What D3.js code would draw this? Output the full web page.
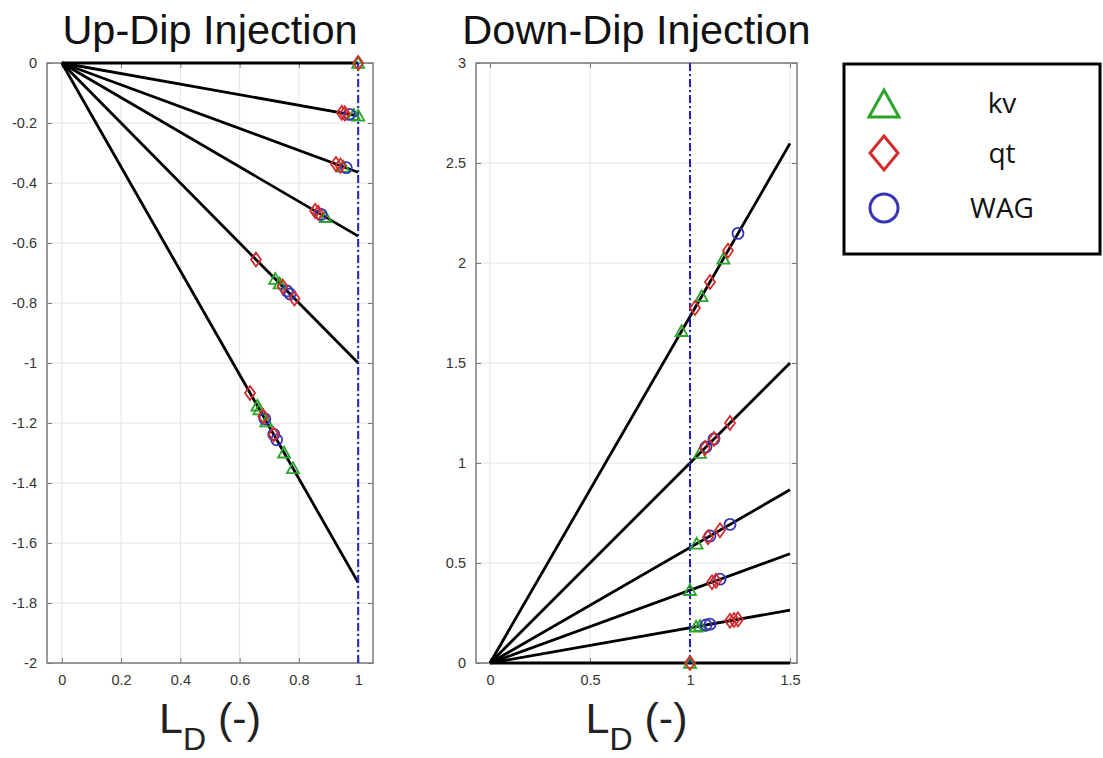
<!DOCTYPE html>
<html>
<head>
<meta charset="utf-8">
<script src="https://cdn.jsdelivr.net/npm/d3@7"></script>
<style>
  body { margin: 0; background: #fff; }
  svg { display: block; }
</style>
</head>
<body>
<svg id="chart" width="1103" height="758"></svg>
<script>
// ---------------- data ----------------
const upTitle = "Up-Dip Injection";
const downTitle = "Down-Dip Injection";

// line end points (y value at the last L_D of each line)
const upLineEndX = 1.0;
const upLineEndY = [0, -0.176, -0.364, -0.577, -1.0, -1.732];
const downLineEndX = 1.5;
const downLineEndY = [0, 0.264, 0.546, 0.866, 1.5, 2.598];

// markers [L_D, value]
const upKv = [[1, 0], [0.985, -0.173], [1.0, -0.176], [0.95, -0.346], [0.89, -0.514],
  [0.72, -0.72], [0.735, -0.735], [0.66, -1.143], [0.667, -1.155], [0.69, -1.195], [0.75, -1.299], [0.78, -1.351]];
const upQt = [[1, 0], [0.945, -0.166], [0.955, -0.168], [0.925, -0.337], [0.94, -0.342],
  [0.855, -0.493], [0.865, -0.499], [0.655, -0.655], [0.745, -0.745], [0.785, -0.785],
  [0.635, -1.10], [0.68, -1.178], [0.715, -1.238]];
const upWag = [[0.97, -0.171], [0.96, -0.349], [0.875, -0.505], [0.76, -0.76], [0.77, -0.77],
  [0.685, -1.186], [0.715, -1.238], [0.725, -1.256]];

const downKv = [[1, 0], [1.03, 0.181], [1.05, 0.185], [1.0, 0.364], [1.033, 0.596], [1.05, 1.05],
  [0.958, 1.659], [1.058, 1.833], [1.167, 2.021]];
const downQt = [[1.2, 0.211], [1.22, 0.215], [1.24, 0.218], [1.11, 0.404], [1.13, 0.411],
  [1.09, 0.629], [1.15, 0.664], [1.075, 1.075], [1.12, 1.12], [1.2, 1.2],
  [1.025, 1.775], [1.10, 1.905], [1.19, 2.061], [1, 0]];
const downWag = [[1.08, 0.19], [1.1, 0.194], [1.15, 0.419], [1.1, 0.635], [1.2, 0.693],
  [1.08, 1.08], [1.12, 1.12], [1.24, 2.148]];

const upXTicks = [0, 0.2, 0.4, 0.6, 0.8, 1];
const upYTicks = [0, -0.2, -0.4, -0.6, -0.8, -1, -1.2, -1.4, -1.6, -1.8, -2];
const downXTicks = [0, 0.5, 1, 1.5];
const downYTicks = [0, 0.5, 1, 1.5, 2, 2.5, 3];

const legendLabels = ["kv", "qt", "WAG"];
const colors = { kv: "#2aa52a", qt: "#d42a2a", WAG: "#3535b5" };

// ---------------- drawing ----------------
const svg = d3.select("#chart");

function trianglePath(s) { // s = half width
  const h = s * 1.0;
  return `M0,${-h}L${s},${h * 0.8}L${-s},${h * 0.8}Z`;
}
function diamondPath(w, h) { return `M0,${-h}L${w},0L0,${h}L${-w},0Z`; }
function circlePath(r) { return d3.symbol(d3.symbolCircle, Math.PI * r * r)(); }

function drawPanel(cfg) {
  const g = svg.append("g");
  const x = d3.scaleLinear().domain(cfg.xDomain).range(cfg.xRange);
  const y = d3.scaleLinear().domain(cfg.yDomain).range(cfg.yRange);
  const [x0, x1] = cfg.xRange, [yb, yt] = cfg.yRange;

  // grid
  g.append("g").selectAll("line").data(cfg.xTicks).join("line")
    .attr("x1", d => x(d)).attr("x2", d => x(d)).attr("y1", yb).attr("y2", yt)
    .attr("stroke", "#e3e3e3").attr("stroke-width", 1);
  g.append("g").selectAll("line").data(cfg.yTicks).join("line")
    .attr("y1", d => y(d)).attr("y2", d => y(d)).attr("x1", x0).attr("x2", x1)
    .attr("stroke", "#e3e3e3").attr("stroke-width", 1);

  // axes box
  g.append("rect").attr("x", x0).attr("y", yt).attr("width", x1 - x0).attr("height", yb - yt)
    .attr("fill", "none").attr("stroke", "#7a7a7a").attr("stroke-width", 1.5);

  // axes (ticks inward, all four sides)
  const fmt = d => String(d);
  const axStyle = sel => {
    sel.select(".domain").remove();
    sel.selectAll(".tick line").attr("stroke", "#7a7a7a").attr("stroke-width", 1);
    sel.selectAll(".tick text").attr("fill", "#333").attr("font-family", "Liberation Sans, Arial, sans-serif").attr("font-size", 14.5);
  };
  g.append("g").attr("transform", `translate(0,${yb})`)
    .call(d3.axisBottom(x).tickValues(cfg.xTicks).tickFormat(fmt).tickSizeInner(-5).tickPadding(12))
    .call(axStyle);
  g.append("g").attr("transform", `translate(0,${yt})`)
    .call(d3.axisTop(x).tickValues(cfg.xTicks).tickFormat("").tickSizeInner(-5))
    .call(axStyle);
  g.append("g").attr("transform", `translate(${x0},0)`)
    .call(d3.axisLeft(y).tickValues(cfg.yTicks).tickFormat(fmt).tickSizeInner(-5).tickPadding(10))
    .call(axStyle);
  g.append("g").attr("transform", `translate(${x1},0)`)
    .call(d3.axisRight(y).tickValues(cfg.yTicks).tickFormat("").tickSizeInner(-5))
    .call(axStyle);

  // black lines from origin
  g.append("g").selectAll("line").data(cfg.lineEndY).join("line")
    .attr("x1", x(0)).attr("y1", y(0))
    .attr("x2", x(cfg.lineEndX)).attr("y2", d => y(d))
    .attr("stroke", "#000").attr("stroke-width", 2.8);

  // dashed blue line at L_D = 1
  g.append("line").attr("x1", x(1)).attr("x2", x(1)).attr("y1", yb).attr("y2", yt)
    .attr("stroke", "#1f1fc8").attr("stroke-width", 2).attr("stroke-dasharray", "8,3,2,3");

  // markers
  const mk = g.append("g").attr("fill", "none").attr("stroke-width", 1.8);
  mk.selectAll(".kv").data(cfg.kv).join("path").attr("class", "kv")
    .attr("d", trianglePath(6)).attr("stroke", colors.kv)
    .attr("transform", d => `translate(${x(d[0])},${y(d[1])})`);
  mk.selectAll(".wag").data(cfg.wag).join("path").attr("class", "wag")
    .attr("d", circlePath(5.5)).attr("stroke", colors.WAG)
    .attr("transform", d => `translate(${x(d[0])},${y(d[1])})`);
  mk.selectAll(".qt").data(cfg.qt).join("path").attr("class", "qt")
    .attr("d", diamondPath(5, 7)).attr("stroke", colors.qt)
    .attr("transform", d => `translate(${x(d[0])},${y(d[1])})`);

  // title
  const cx = (x0 + x1) / 2;
  g.append("text").attr("x", cx).attr("y", 44).attr("text-anchor", "middle")
    .attr("font-family", "Liberation Sans, Arial, sans-serif").attr("font-size", 41.5)
    .attr("fill", "#111").text(cfg.title);

  // x label L_D (-)
  const lab = g.append("text").attr("x", cx).attr("y", 733).attr("text-anchor", "middle")
    .attr("font-family", "Liberation Sans, Arial, sans-serif").attr("font-size", 43).attr("fill", "#222");
  lab.append("tspan").text("L");
  lab.append("tspan").attr("font-size", 32).attr("dy", 17).text("D");
  lab.append("tspan").attr("dy", -17).text(" (-)");
}

drawPanel({
  title: upTitle, xDomain: [-0.05, 1.05], xRange: [47, 373], yDomain: [-2, 0], yRange: [663, 63],
  xTicks: upXTicks, yTicks: upYTicks, lineEndX: upLineEndX, lineEndY: upLineEndY,
  kv: upKv, qt: upQt, wag: upWag
});
drawPanel({
  title: downTitle, xDomain: [-0.07, 1.535], xRange: [476, 797], yDomain: [0, 3], yRange: [663, 63],
  xTicks: downXTicks, yTicks: downYTicks, lineEndX: downLineEndX, lineEndY: downLineEndY,
  kv: downKv, qt: downQt, wag: downWag
});

// legend
const lg = svg.append("g");
lg.append("rect").attr("x", 844).attr("y", 64).attr("width", 256).attr("height", 190)
  .attr("fill", "#fff").attr("stroke", "#000").attr("stroke-width", 3);
const legShapes = [trianglePath(15), diamondPath(14, 17), circlePath(14)];
const legColors = [colors.kv, colors.qt, colors.WAG];
const legY = [103, 153, 208];
lg.selectAll(".ls").data(legendLabels).join("path").attr("class", "ls")
  .attr("d", (d, i) => legShapes[i]).attr("fill", "none")
  .attr("stroke", (d, i) => legColors[i]).attr("stroke-width", 3)
  .attr("transform", (d, i) => `translate(884,${legY[i] + (i === 0 ? 2 : 0)})`);
lg.selectAll(".lt").data(legendLabels).join("text").attr("class", "lt")
  .attr("x", 1002).attr("y", (d, i) => legY[i]).attr("dy", "0.36em")
  .attr("text-anchor", "middle").attr("font-family", "Open Sans, Liberation Sans, sans-serif")
  .attr("font-size", 28).attr("fill", "#111").text(d => d);
</script>
</body>
</html>
